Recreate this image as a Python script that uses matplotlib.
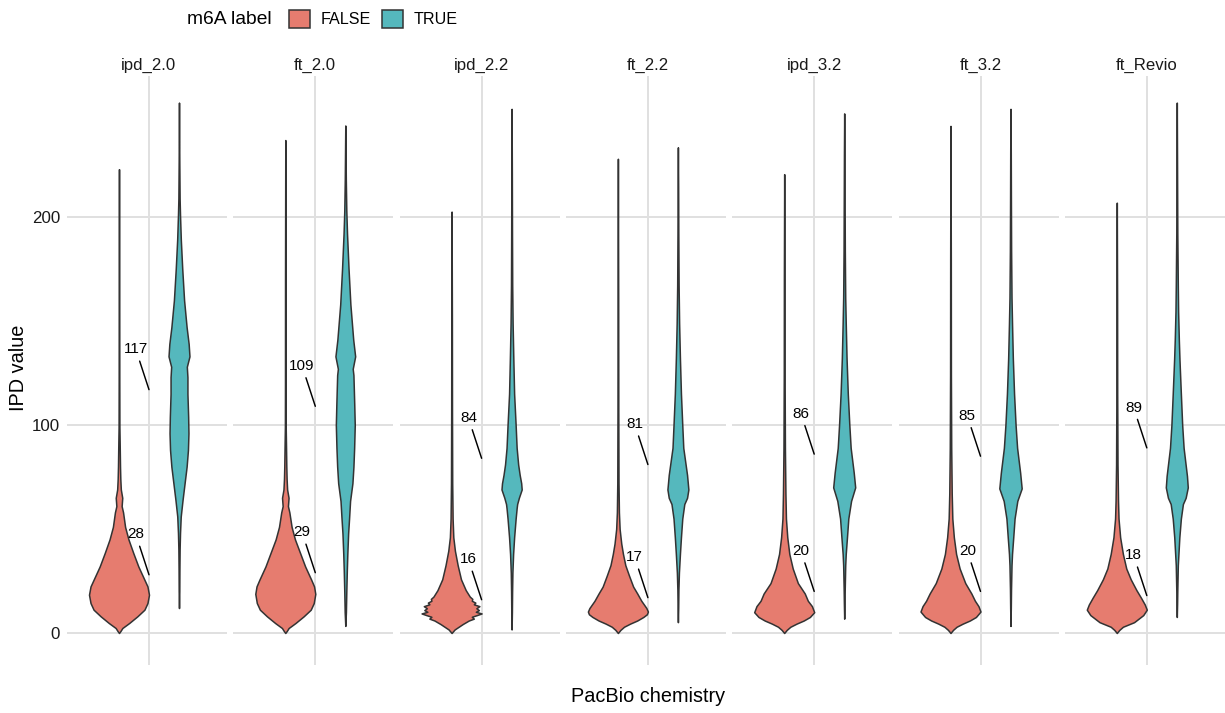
import matplotlib
matplotlib.use("Agg")
import matplotlib.pyplot as plt
from matplotlib.patches import Patch

plt.rcParams['font.family'] = ['Liberation Sans', 'DejaVu Sans']

# ---------------- data ----------------
chemistries = ["ipd_2.0", "ft_2.0", "ipd_2.2", "ft_2.2", "ipd_3.2", "ft_3.2", "ft_Revio"]
groups = ["FALSE", "TRUE"]
mean_false = [28, 29, 16, 17, 20, 20, 18]
mean_true = [117, 109, 84, 81, 86, 85, 89]

# violin outlines: IPD value knots and density (relative)
false_y = {
    "ipd_2.0": [0, 1, 2.4, 4.8, 8, 11.2, 14.4, 18.4, 22.4, 25.6, 32, 38.5, 45, 51, 58, 61, 65, 69, 74, 80, 90, 99, 120, 160, 223],
    "ft_2.0": [0, 1, 2.4, 4.8, 8, 11.2, 14.4, 18.8, 22.4, 25.6, 32, 38.5, 45, 51, 58, 61, 65, 69, 74, 80, 90, 99, 120, 170, 237],
    "ipd_2.2": [0, 1.7, 4.3, 6.0, 6.9, 7.8, 8.6, 9.4, 10.2, 11.0, 11.9, 12.9, 13.8, 14.6, 15.5, 16.4, 17.5, 20.6, 25.8, 32.6, 39.5, 46, 55, 72, 106, 150, 202.6],
    "ft_2.2": [0, 1.5, 3, 4.5, 6, 7.7, 9, 10.3, 12, 15.5, 19, 22.3, 27.5, 32.6, 38, 43, 50, 58, 72, 106, 160, 228],
    "ipd_3.2": [0, 1.5, 3, 4.5, 6, 7.7, 10, 12.9, 15.5, 19, 24, 31, 38, 46, 55, 67, 89, 124, 170, 220.6],
    "ft_3.2": [0, 1.5, 3, 4.5, 6, 7.7, 10.3, 12.9, 15.5, 19, 24, 31, 38, 46, 55, 67, 89, 124, 180, 243.8],
    "ft_Revio": [0, 1.5, 3, 5.2, 8.6, 11.2, 13.7, 17, 20.6, 25.8, 31, 38, 46, 55, 63.5, 81, 115, 160, 206.9],
}
false_d = {
    "ipd_2.0": [0, 1.5, 3.3, 10, 18, 25, 28, 29.5, 28, 25, 19, 14, 9.3, 6, 4, 2.6, 3.2, 1.8, 1.3, 1.0, 0.7, 0.4, 0.3, 0.25, 0],
    "ft_2.0": [0, 1.5, 3.3, 10, 18, 25, 28, 29.5, 28.3, 25.5, 19.5, 14.5, 9.5, 6.2, 4, 2.6, 3.2, 1.8, 1.3, 1.0, 0.7, 0.4, 0.3, 0.25, 0],
    "ipd_2.2": [0, 3, 11, 17, 22, 20, 25, 29.7, 24, 27, 24.5, 27.5, 22, 23.5, 20, 20.5, 18, 14, 9.3, 6, 3.3, 1.7, 1.0, 0.6, 0.4, 0.3, 0],
    "ft_2.2": [0, 2.5, 6, 12, 19, 25, 28.5, 29.5, 28, 23, 19, 15, 11, 7.3, 5, 3.3, 1.7, 1.0, 0.6, 0.4, 0.3, 0],
    "ipd_3.2": [0, 2.5, 6, 12, 19, 25, 29.2, 27, 23, 20, 13.3, 8.3, 5, 3, 1.7, 1.2, 0.7, 0.4, 0.3, 0],
    "ft_3.2": [0, 2.5, 6, 12, 19, 25, 29.5, 27.5, 24, 20.5, 14.5, 9, 5.5, 3.3, 1.8, 1.2, 0.7, 0.4, 0.3, 0],
    "ft_Revio": [0, 2.5, 6, 17, 26, 29.5, 27.5, 23.7, 19.3, 13.7, 9.3, 6, 3.3, 1.7, 1.2, 0.7, 0.4, 0.3, 0],
}
true_y = {
    "ipd_2.0": [12, 20, 30, 40, 48, 56, 64, 72, 80, 88, 96, 104, 115, 123, 128, 133, 139, 147, 160, 175, 189, 201, 209, 227, 255],
    "ft_2.0": [3.4, 10, 20, 30, 38, 48, 55, 63.5, 72, 80, 89, 100, 110, 124, 127, 133, 141, 158, 175, 192, 203, 218, 244],
    "ipd_2.2": [1.7, 10, 20, 29, 38, 46, 55, 60, 62, 65, 69, 72, 76, 81, 89, 100, 115, 132, 149, 167, 192, 220, 252],
    "ft_2.2": [5.2, 12, 20.6, 29, 38, 46, 55, 62, 65, 69, 76, 89, 100, 115, 132, 149, 167, 192, 215, 233.5],
    "ipd_3.2": [6.9, 14, 20.6, 32.6, 38, 46, 55, 63.5, 70, 77, 89, 100, 115, 132, 149, 161, 184, 209, 230, 249.8],
    "ft_3.2": [3.4, 12, 20.6, 32.6, 38, 46, 55, 63.5, 69.5, 77, 89, 100, 115, 132, 149, 161, 184, 209, 232, 252],
    "ft_Revio": [7.7, 14, 20.6, 32.6, 46, 55, 62, 65, 70, 75.5, 89, 100, 115, 127, 132, 141, 154.5, 166.5, 192, 225, 255],
}
true_d = {
    "ipd_2.0": [0, 0.3, 0.4, 0.6, 1.0, 1.7, 3.5, 5.5, 7.5, 8.8, 9.3, 9.0, 8.3, 8.3, 7.7, 10.3, 9.5, 7.5, 5.0, 3.2, 1.8, 1.0, 0.6, 0.3, 0],
    "ft_2.0": [0, 0.6, 1.0, 1.5, 2.0, 2.8, 3.7, 4.7, 7.0, 8.0, 8.7, 9.3, 8.8, 8.0, 7.3, 9.7, 7.8, 5.0, 3.2, 1.7, 1.0, 0.5, 0],
    "ipd_2.2": [0, 0.3, 0.5, 0.8, 1.5, 2.5, 4.0, 5.0, 5.5, 7.2, 10, 9.5, 8, 6.5, 5, 4, 2.5, 1.7, 1.0, 0.6, 0.4, 0.25, 0],
    "ft_2.2": [0, 0.3, 0.5, 1, 2, 3, 4.3, 6.3, 9, 10.3, 9, 5.3, 4.3, 3, 2, 1.2, 0.7, 0.4, 0.25, 0],
    "ipd_3.2": [0, 0.3, 0.5, 1, 1.5, 2.7, 4, 6.7, 10.7, 9.3, 6.3, 5, 3.5, 2.3, 1.5, 1.0, 0.6, 0.4, 0.25, 0],
    "ft_3.2": [0, 0.3, 0.5, 1, 1.5, 2.7, 4, 6.7, 11, 9.5, 6.5, 5, 3.5, 2.3, 1.5, 1.0, 0.6, 0.4, 0.25, 0],
    "ft_Revio": [0, 0.3, 0.5, 1, 2.5, 4, 6, 8.7, 10.8, 10, 6.7, 5.3, 4, 3, 2.6, 2, 1.3, 1, 0.5, 0.25, 0],
}
y_ticks = [0, 100, 200]

# ---------------- style ----------------
W, H = 1225, 713
col_false = "#E67C6F"
col_true = "#55B8BD"
edge = "#333333"
grid_col = "#E0E0E0"

fig = plt.figure(figsize=(W / 100, H / 100), dpi=100)
fig.patch.set_facecolor("white")

panel_w = 160
panel_step = 166.3
panel_left0 = 67
panel_top, panel_bot = 76, 665
ylim = ((633 - panel_bot) / 2.08, (633 - panel_top) / 2.08)
px_per_unit = panel_w / 1.2
xlim = (1 - 82 / px_per_unit, 1 + 78 / px_per_unit)
dodge = 0.9
half = dodge / 4  # max half width of each violin

for i, chem in enumerate(chemistries):
    left = panel_left0 + i * panel_step
    ax = fig.add_axes([left / W, 1 - panel_bot / H, panel_w / W, (panel_bot - panel_top) / H])
    ax.set_xlim(*xlim)
    ax.set_ylim(*ylim)
    for s in ax.spines.values():
        s.set_visible(False)
    ax.set_facecolor("none")
    ax.set_yticks(y_ticks)
    ax.set_xticks([1])
    ax.grid(True, color=grid_col, lw=1.4, zorder=0)
    ax.set_axisbelow(True)
    ax.tick_params(length=0, labelbottom=False)
    if i == 0:
        ax.tick_params(axis="y", labelsize=12.2, labelcolor="#1a1a1a", pad=5.0)
    else:
        ax.tick_params(axis="y", labelleft=False)

    maxd = max(max(false_d[chem]), max(true_d[chem]))
    for gi, (ys, ds, col) in enumerate([(false_y[chem], false_d[chem], col_false),
                                         (true_y[chem], true_d[chem], col_true)]):
        xc = 1 - half if gi == 0 else 1 + half
        hw = [half * d / maxd for d in ds]
        ax.fill_betweenx(ys, [xc - h for h in hw], [xc + h for h in hw],
                         facecolor=col, edgecolor=edge, lw=1.1, zorder=2)

    for m in (mean_false[i], mean_true[i]):
        ax.annotate(str(m), xy=(1, m), xytext=(-9.5, 29), textcoords="offset points",
                    ha="center", va="center", fontsize=11, color="black",
                    arrowprops=dict(arrowstyle="-", color="black", lw=1.05,
                                    shrinkA=1.5, shrinkB=0), zorder=5)

    fig.text((left + panel_w / 2 + 2) / W, 1 - 65 / H, chem, ha="center", va="center",
             fontsize=12.1, color="#1a1a1a")

# axis titles
fig.text(18.5 / W, 1 - 368 / H, "IPD value", rotation=90, ha="center", va="center",
         fontsize=14.3, color="black")
fig.text(648 / W, 1 - 697 / H, "PacBio chemistry", ha="center", va="center",
         fontsize=14.3, color="black")

# legend
fig.text(187 / W, 1 - 20 / H, "m6A label", ha="left", va="center", fontsize=13.9, color="black")
handles = [Patch(facecolor=col_false, edgecolor=edge, lw=1.1, label=groups[0]),
           Patch(facecolor=col_true, edgecolor=edge, lw=1.1, label=groups[1])]
fig.legend(handles=handles, loc="center left", bbox_to_anchor=(289 / W, 1 - 19 / H),
           ncol=2, frameon=False, fontsize=11.6, handlelength=1.3, handleheight=1.3,
           handletextpad=0.66, columnspacing=0.72, borderpad=0, borderaxespad=0)

fig.savefig("out.png", dpi=100, facecolor="white")
